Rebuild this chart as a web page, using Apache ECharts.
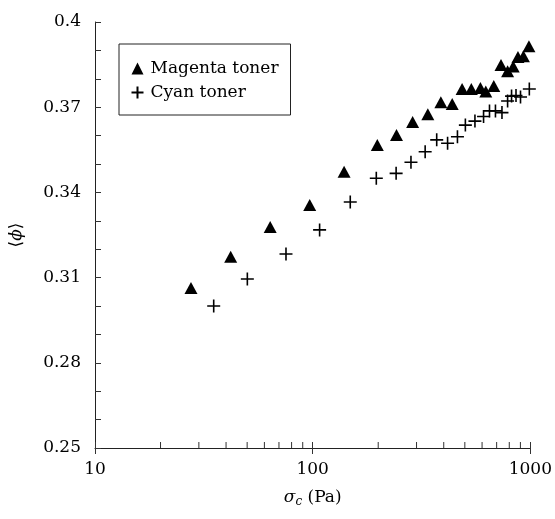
<!DOCTYPE html>
<html>
<head>
<meta charset="utf-8">
<script src="https://cdn.jsdelivr.net/npm/echarts@6/dist/echarts.min.js"></script>
<style>html,body{margin:0;padding:0;background:#fff}#c{width:555px;height:519px}</style>
</head>
<body>
<div id="c"></div>
<script>
// Data (x: σc in Pa, y: <φ>)
var magentaX = [27.6, 42.0, 63.8, 96.9, 139.4, 198.1, 242.7, 287.8, 338, 388, 437.5, 485.8, 535.5, 589.5, 624, 679, 733, 786, 834, 877, 929, 985];
var magentaY = [0.3063, 0.3173, 0.3278, 0.3356, 0.3473, 0.3567, 0.3602, 0.3648, 0.3675, 0.3717, 0.3711, 0.3764, 0.3764, 0.3768, 0.3755, 0.3775, 0.3849, 0.3827, 0.3843, 0.3877, 0.3879, 0.3915];
var cyanX = [35.1, 50.1, 75.4, 107.6, 148.8, 196, 241.7, 282.8, 328.6, 371.3, 416.6, 462.4, 502.8, 556.4, 609.5, 649, 691.2, 740.5, 786, 819.6, 859, 901, 989];
var cyanY = [0.300, 0.3095, 0.3183, 0.3268, 0.3366, 0.345, 0.3467, 0.3506, 0.3543, 0.3585, 0.3573, 0.3596, 0.3637, 0.3651, 0.3667, 0.3687, 0.3687, 0.3681, 0.3722, 0.3739, 0.3741, 0.3736, 0.3764];
var seriesNames = ['Magenta toner', 'Cyan toner'];
var yLabelValues = [0.25, 0.28, 0.31, 0.34, 0.37, 0.4];
var xLabelValues = [10, 100, 1000];
var xMinorTicks = [20, 30, 40, 50, 60, 70, 80, 90, 200, 300, 400, 500, 600, 700, 800, 900];

function zip(a, b) { return a.map(function (v, i) { return [v, b[i]]; }); }

var FONT = '"DejaVu Serif", "Liberation Serif", serif';
var FS = 17;
var CROSS = 'path://M5,0L5,10M0,5L10,5';
var chart = echarts.init(document.getElementById('c'), null, {renderer: 'canvas'});

var option = {
  backgroundColor: '#fff',
  animation: false,
  textStyle: {fontFamily: FONT, color: '#000'},
  grid: {left: 93, right: 22, top: 22, bottom: 71},
  legend: {
    left: 119, top: 44, orient: 'vertical',
    borderColor: '#222', borderWidth: 1,
    padding: [16, 12, 14, 10],
    itemGap: 7, itemWidth: 12, itemHeight: 12,
    textStyle: {fontFamily: FONT, fontSize: FS, color: '#000', padding: [0, 0, 0, 2]},
    data: [
      {name: seriesNames[0], icon: 'triangle'},
      {name: seriesNames[1], icon: CROSS}
    ]
  },
  xAxis: [{
    type: 'log', logBase: 10, min: 10, max: 1000, interval: 1,
    position: 'bottom',
    name: '{s|σ}{sub|c} (Pa)', nameLocation: 'middle', nameGap: 40,
    nameTextStyle: {
      fontFamily: FONT, fontSize: FS, color: '#000',
      rich: {
        s: {fontFamily: FONT, fontSize: FS, fontStyle: 'italic', color: '#000'},
        sub: {fontFamily: FONT, fontSize: 12, fontStyle: 'italic', color: '#000', verticalAlign: 'bottom', padding: [8, 0, 0, 0]}
      }
    },
    axisLine: {show: true, lineStyle: {color: '#222', width: 1}},
    axisTick: {show: true, inside: true, length: 6, lineStyle: {color: '#333'}},
    minorTick: {show: false},
    axisLabel: {
      fontFamily: FONT, fontSize: FS, color: '#000', margin: 13,
      formatter: function (v) {
        for (var i = 0; i < xLabelValues.length; i++) {
          if (Math.abs(v - xLabelValues[i]) / xLabelValues[i] < 1e-6) return String(xLabelValues[i]);
        }
        return '';
      }
    },
    splitLine: {show: false}
  }, {
    type: 'log', logBase: 10, min: 10, max: 1000, interval: 1,
    position: 'bottom',
    axisLine: {show: false},
    axisTick: {show: true, inside: false, length: 6, lineStyle: {color: '#333'}},
    axisLabel: {show: false},
    splitLine: {show: false}
  }],
  yAxis: {
    type: 'value', min: 0.25, max: 0.4, interval: 0.01,
    name: '{a|⟨}{b|ϕ}{a|⟩}', nameLocation: 'middle', nameGap: 70, nameRotate: 90,
    nameTextStyle: {
      rich: {
        a: {fontFamily: '"DejaVu Serif", serif', fontSize: 17, color: '#000'},
        b: {fontFamily: FONT, fontSize: FS, fontStyle: 'italic', color: '#000'}
      }
    },
    axisLine: {show: true, lineStyle: {color: '#222', width: 1}},
    axisTick: {show: true, inside: true, length: 6, lineStyle: {color: '#333'}},
    axisLabel: {
      fontFamily: FONT, fontSize: FS, color: '#000', margin: 14,
      formatter: function (v) {
        for (var i = 0; i < yLabelValues.length; i++) {
          if (Math.abs(v - yLabelValues[i]) < 1e-6) return String(yLabelValues[i]);
        }
        return '';
      }
    },
    splitLine: {show: false}
  },
  series: [{
    name: seriesNames[0], type: 'scatter', xAxisIndex: 0,
    symbol: 'triangle', symbolSize: [13, 12],
    itemStyle: {color: '#000', opacity: 1},
    data: zip(magentaX, magentaY)
  }, {
    name: seriesNames[1], type: 'scatter', xAxisIndex: 0,
    symbol: CROSS, symbolSize: 13,
    itemStyle: {color: 'none', borderColor: '#000', borderWidth: 1.6, opacity: 1},
    data: zip(cyanX, cyanY)
  }, {
    name: 'minorTicks', type: 'custom', xAxisIndex: 0, silent: true,
    data: xMinorTicks.map(function (v) { return [v, 0.25]; }),
    renderItem: function (params, api) {
      var p = api.coord([api.value(0), api.value(1)]);
      return {
        type: 'line',
        shape: {x1: p[0], y1: p[1], x2: p[0], y2: p[1] - 6},
        style: {stroke: '#333', lineWidth: 1}
      };
    }
  }]
};
chart.setOption(option);
</script>
</body>
</html>
